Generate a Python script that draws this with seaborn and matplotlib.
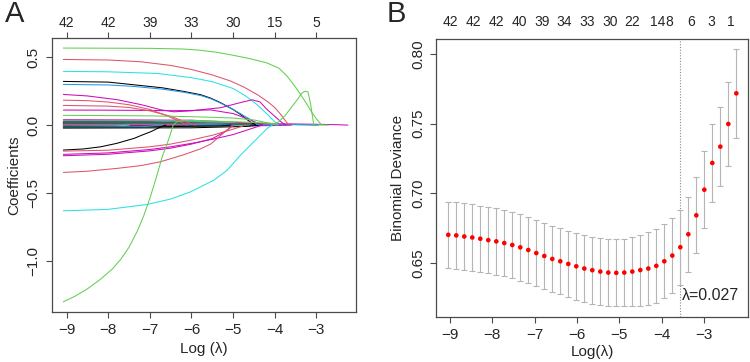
import numpy as np
import pandas as pd
import matplotlib
matplotlib.use("Agg")
import matplotlib.pyplot as plt
import seaborn as sns

# ---------------- colours (R default palette) ----------------
BLACK, RED, GREEN, BLUE, CYAN, MAGENTA = "black", "#DF536B", "#61D04F", "#2297E6", "#28E2E5", "#CD0BBC"

# ---------------- Panel A: coefficient paths (log lambda knots, coefficients) ----------------
green_top_x = [-9.08, -8.0, -7.0, -6.2, -5.8, -5.4, -5.0, -4.6, -4.2, -3.9, -3.7, -3.5, -3.3, -3.1, -2.98, -2.87]
green_top_y = [0.568, 0.567, 0.566, 0.561, 0.552, 0.537, 0.515, 0.49, 0.46, 0.42, 0.36, 0.28, 0.19, 0.09, 0.04, 0.0]

green_hump_x = [-9.08, -8.8, -8.5, -8.2, -7.9, -7.7, -7.5, -7.3, -7.15, -7.0, -6.85, -6.7, -6.6, -6.5, -6.44,
                -6.35, -6.2, -6.0, -5.5, -5.0, -4.5, -4.0, -3.9, -3.75, -3.6, -3.45, -3.35, -3.27, -3.2, -3.14, -3.06]
green_hump_y = [-1.303, -1.262, -1.207, -1.14, -1.06, -0.99, -0.90, -0.78, -0.67, -0.54, -0.39, -0.23, -0.15, -0.06, 0.0,
                0.025, 0.033, 0.035, 0.03, 0.025, 0.02, 0.012, 0.025, 0.07, 0.13, 0.19, 0.235, 0.25, 0.245, 0.16, 0.0]

red_top_x = [-9.08, -8.0, -7.22, -6.5, -6.0, -5.5, -5.06, -4.74, -4.42, -4.18, -4.0, -3.86, -3.75, -3.66]
red_top_y = [0.484, 0.48, 0.467, 0.44, 0.41, 0.37, 0.325, 0.28, 0.225, 0.175, 0.13, 0.08, 0.035, 0.0]

cyan_top_x = [-9.08, -8.0, -6.83, -6.0, -5.5, -5.0, -4.7, -4.42, -4.18, -4.0, -3.92]
cyan_top_y = [0.396, 0.393, 0.381, 0.35, 0.32, 0.27, 0.215, 0.15, 0.08, 0.025, 0.0]

black_top_x = [-9.08, -8.0, -7.38, -6.7, -6.18, -5.78, -5.54, -5.3, -5.0, -4.82, -4.62, -4.45]
black_top_y = [0.322, 0.317, 0.297, 0.275, 0.248, 0.224, 0.199, 0.165, 0.115, 0.078, 0.03, 0.0]

blue_top_x = [-9.08, -8.0, -7.38, -6.7, -6.18, -5.78, -5.54, -5.3, -5.0, -4.8, -4.55, -4.38]
blue_top_y = [0.300, 0.296, 0.285, 0.265, 0.242, 0.218, 0.195, 0.162, 0.115, 0.08, 0.035, 0.0]

mag_a_x = [-9.08, -8.5, -7.78, -7.2, -6.74, -6.42, -6.0, -5.78, -5.3, -4.9, -4.54, -4.35, -4.2, -4.0, -3.86, -3.74]
mag_a_y = [0.226, 0.215, 0.187, 0.15, 0.113, 0.098, 0.105, 0.113, 0.128, 0.16, 0.187, 0.17, 0.12, 0.065, 0.027, 0.0]

mag_b_x = [-9.08, -8.0, -7.0, -6.5, -6.0, -5.54, -5.0, -4.6, -4.3]
mag_b_y = [0.111, 0.11, 0.108, 0.106, 0.108, 0.112, 0.085, 0.04, 0.0]

red_c_x = [-9.08, -8.5, -8.0, -7.5, -7.0, -6.6, -6.3, -6.1]
red_c_y = [0.184, 0.18, 0.17, 0.15, 0.115, 0.07, 0.03, 0.0]

red_d_x = [-9.08, -8.0, -7.5, -7.0, -6.5, -6.2, -5.9]
red_d_y = [0.145, 0.14, 0.13, 0.105, 0.065, 0.03, 0.0]

green_e_x = [-9.08, -7.0, -6.0, -5.0, -4.5, -4.1, -3.95]
green_e_y = [0.072, 0.068, 0.062, 0.052, 0.038, 0.012, 0.0]

black_neg_x = [-9.08, -8.6, -8.18, -7.8, -7.38, -7.2, -6.98, -6.8, -6.62]
black_neg_y = [-0.184, -0.176, -0.16, -0.135, -0.098, -0.075, -0.049, -0.022, 0.0]

red_neg_x = [-9.08, -8.0, -7.0, -6.5, -6.0, -5.5, -5.0, -4.7]
red_neg_y = [-0.192, -0.185, -0.16, -0.14, -0.11, -0.075, -0.03, 0.0]

mag_neg1_x = [-9.08, -8.0, -7.0, -6.5, -6.0, -5.5, -5.0, -4.6, -4.3]
mag_neg1_y = [-0.216, -0.205, -0.18, -0.16, -0.135, -0.105, -0.07, -0.03, 0.0]

mag_neg2_x = [-9.08, -8.0, -7.0, -6.5, -6.0, -5.5, -5.2, -5.0]
mag_neg2_y = [-0.226, -0.215, -0.19, -0.17, -0.14, -0.10, -0.05, 0.0]

red_big_x = [-9.08, -8.5, -7.78, -7.2, -6.74, -6.2, -5.78, -5.54, -5.38, -5.2, -5.06, -4.98]
red_big_y = [-0.349, -0.34, -0.319, -0.298, -0.27, -0.22, -0.175, -0.14, -0.098, -0.05, -0.018, 0.0]

cyan_neg_x = [-9.08, -8.02, -7.06, -6.5, -6.02, -5.46, -5.14, -4.82, -4.42, -4.18, -4.06]
cyan_neg_y = [-0.632, -0.622, -0.585, -0.545, -0.492, -0.406, -0.332, -0.221, -0.098, -0.024, 0.0]

# small coefficients forming the band near zero
band_colors = [MAGENTA, GREEN, RED, BLUE, BLACK, CYAN, MAGENTA, GREEN, BLACK, BLUE, CYAN, RED, MAGENTA,
               BLACK, GREEN, CYAN, BLUE, RED, BLACK, MAGENTA, CYAN, GREEN, BLACK, BLUE, BLACK]
band_x = [
    [-9.08, -6.0, -4.6, -4.2], [-9.08, -6.0, -5.0, -4.5], [-9.08, -6.5, -5.2, -4.8], [-9.08, -6.0, -4.8, -4.4],
    [-9.08, -7.0, -5.4, -5.0], [-9.08, -6.0, -4.6, -4.3], [-9.08, -6.0, -4.0, -3.0, -2.5, -2.24],
    [-9.08, -7.5, -7.2], [-9.08, -6.0, -4.3, -3.9], [-9.08, -7.0, -5.2, -4.9], [-9.08, -6.5, -5.4, -5.1],
    [-9.08, -6.0, -3.8, -2.98], [-9.08, -7.6, -7.3], [-9.08, -6.2, -4.6], [-9.08, -5.5, -3.5, -2.7],
    [-9.08, -7.3, -6.8], [-9.08, -5.0, -3.2, -2.95], [-9.08, -6.5, -6.2], [-9.08, -6.0, -4.5],
    [-9.08, -5.5, -4.1, -3.6], [-9.08, -7.8, -7.5], [-9.08, -6.0, -4.9, -4.6], [-9.08, -7.0, -5.3, -5.05],
    [-9.08, -7.2, -6.7], [-9.08, -6.0, -4.7, -4.3]]
band_y = [
    [0.040, 0.036, 0.015, 0.0], [0.035, 0.032, 0.015, 0.0], [0.030, 0.028, 0.012, 0.0], [0.026, 0.024, 0.012, 0.0],
    [0.022, 0.021, 0.010, 0.0], [0.020, 0.019, 0.010, 0.0], [0.012, 0.012, 0.010, 0.006, 0.003, 0.0],
    [0.018, 0.012, 0.0], [0.016, 0.015, 0.008, 0.0], [0.014, 0.013, 0.006, 0.0], [0.012, 0.011, 0.005, 0.0],
    [0.010, 0.010, 0.007, 0.0], [0.009, 0.006, 0.0], [0.008, 0.007, 0.0], [0.006, 0.006, 0.004, 0.0],
    [0.005, 0.003, 0.0], [0.004, 0.004, 0.003, 0.0], [0.003, 0.002, 0.0], [-0.004, -0.004, 0.0],
    [-0.006, -0.006, -0.004, 0.0], [-0.008, -0.006, 0.0], [-0.010, -0.009, -0.004, 0.0], [-0.014, -0.013, -0.006, 0.0],
    [-0.018, -0.012, 0.0], [-0.022, -0.020, -0.010, 0.0]]

top_a_pos = [-9, -8, -7, -6, -5, -4, -3]
top_a_labels = ["42", "42", "39", "33", "30", "15", "5"]

# ---------------- Panel B: cross-validation curve ----------------
log_lambda = [-9.040, -8.851, -8.662, -8.473, -8.284, -8.095, -7.906, -7.717, -7.528, -7.339, -7.150, -6.961,
              -6.772, -6.583, -6.394, -6.205, -6.016, -5.827, -5.638, -5.449, -5.260, -5.071, -4.882, -4.693,
              -4.504, -4.315, -4.126, -3.937, -3.748, -3.559, -3.370, -3.181, -2.992, -2.803, -2.614, -2.425, -2.236]
cv_mean = [0.6702, 0.6698, 0.6690, 0.6683, 0.6674, 0.6664, 0.6655, 0.6643, 0.6629, 0.6612, 0.6593, 0.6571,
           0.6550, 0.6529, 0.6512, 0.6493, 0.6476, 0.6460, 0.6448, 0.6438, 0.6431, 0.6429, 0.6431, 0.6438,
           0.6449, 0.6460, 0.6479, 0.6512, 0.6553, 0.6613, 0.6706, 0.6842, 0.7026, 0.7218, 0.7335, 0.7498, 0.7718]
cv_se = [0.0238, 0.0238, 0.0238, 0.0238, 0.0238, 0.0238, 0.0238, 0.0238, 0.0238, 0.0238, 0.0238, 0.0238,
         0.0238, 0.0238, 0.0238, 0.0238, 0.0239, 0.0239, 0.0240, 0.0240, 0.0240, 0.0240, 0.0242, 0.0245,
         0.0255, 0.0260, 0.0263, 0.0267, 0.0268, 0.0269, 0.0270, 0.0272, 0.0277, 0.0280, 0.0283, 0.0301, 0.0319]
top_b_pos = [-8.98, -8.44, -7.90, -7.37, -6.83, -6.30, -5.76, -5.22, -4.69, -4.10, -3.83, -3.31, -2.83, -2.36]
top_b_labels = ["42", "42", "42", "40", "39", "34", "33", "30", "22", "14", "8", "6", "3", "1"]
sel_log_lambda = -3.559
sel_label = "λ=0.027"

# ---------------- build long table for panel A ----------------
major = [
    ("green_top", GREEN, green_top_x, green_top_y), ("red_top", RED, red_top_x, red_top_y),
    ("cyan_top", CYAN, cyan_top_x, cyan_top_y), ("black_top", BLACK, black_top_x, black_top_y),
    ("blue_top", BLUE, blue_top_x, blue_top_y), ("mag_a", MAGENTA, mag_a_x, mag_a_y),
    ("mag_b", MAGENTA, mag_b_x, mag_b_y), ("red_c", RED, red_c_x, red_c_y), ("red_d", RED, red_d_x, red_d_y),
    ("green_e", GREEN, green_e_x, green_e_y), ("black_neg", BLACK, black_neg_x, black_neg_y),
    ("red_neg", RED, red_neg_x, red_neg_y), ("mag_neg1", MAGENTA, mag_neg1_x, mag_neg1_y),
    ("mag_neg2", MAGENTA, mag_neg2_x, mag_neg2_y), ("red_big", RED, red_big_x, red_big_y),
    ("cyan_neg", CYAN, cyan_neg_x, cyan_neg_y), ("green_hump", GREEN, green_hump_x, green_hump_y),
]
rows, pal = [], {}
for i, (c, xs, ys) in enumerate(zip(band_colors, band_x, band_y)):
    name = f"band{i}"
    pal[name] = c
    rows += [(name, x, y) for x, y in zip(xs, ys)]
for name, c, xs, ys in major:
    pal[name] = c
    rows += [(name, x, y) for x, y in zip(xs, ys)]
df_a = pd.DataFrame(rows, columns=["path", "loglam", "coef"])

# ---------------- style ----------------
sns.set_style("white")
plt.rcParams["font.family"] = ["Liberation Sans", "DejaVu Sans"]
EDGE = "#4a4a4a"

fig = plt.figure(figsize=(7.5, 3.62), dpi=100)
axA = fig.add_axes([51.7 / 750, (362 - 311.7) / 362, 304.3 / 750, 273.4 / 362])
axB = fig.add_axes([436 / 750, (362 - 317) / 362, 312 / 750, 278 / 362])

sns.lineplot(data=df_a, x="loglam", y="coef", hue="path", palette=pal, estimator=None,
             sort=False, legend=False, linewidth=0.75, ax=axA)

axB.errorbar(log_lambda, cv_mean, yerr=cv_se, fmt="none", ecolor="#b5b5b5",
             elinewidth=0.8, capsize=2.5, capthick=0.8, zorder=1)
sns.scatterplot(x=log_lambda, y=cv_mean, color="red", s=11, edgecolor="none", ax=axB, zorder=3)
axB.axvline(sel_log_lambda, color="#8a8a8a", linestyle=(0, (1, 1.5)), linewidth=0.8, zorder=0)
axB.text(sel_log_lambda + 0.03, 0.6267, sel_label, ha="left", va="center", fontsize=11.5)

def style(ax):
    for s in ax.spines.values():
        s.set_visible(True)
        s.set_color(EDGE)
        s.set_linewidth(0.9)
    ax.tick_params(axis="both", direction="out", length=4, width=0.8, color=EDGE,
                   labelsize=11, pad=4, bottom=True, left=True)
    for lab in ax.get_yticklabels():
        lab.set_rotation(90)
        lab.set_va("center")

axA.set_xlim(-9.36, -2.046)
axA.set_ylim(-1.376, 0.640)
axA.set_xticks([-9, -8, -7, -6, -5, -4, -3])
axA.set_yticks([-1.0, -0.5, 0.0, 0.5])
axA.set_yticklabels(["\u22121.0", "\u22120.5", "0.0", "0.5"])
axA.set_xlabel("Log (λ)", fontsize=11, labelpad=4)
axA.set_ylabel("Coefficients", fontsize=11, labelpad=4)
style(axA)

axB.set_xlim(-9.33, -1.96)
axB.set_ylim(0.6112, 0.8108)
axB.set_xticks([-9, -8, -7, -6, -5, -4, -3])
axB.set_yticks([0.65, 0.70, 0.75, 0.80])
axB.set_yticklabels(["0.65", "0.70", "0.75", "0.80"])
axB.set_xlabel("Log(λ)", fontsize=11, labelpad=2)
axB.set_ylabel("Binomial Deviance", fontsize=11, labelpad=4)
style(axB)

secA = axA.secondary_xaxis("top")
secA.set_xticks(top_a_pos)
secA.set_xticklabels(top_a_labels)
secA.tick_params(length=4, width=0.8, color=EDGE, labelsize=10, pad=2)
secA.spines["top"].set_visible(False)

secB = axB.secondary_xaxis("top")
secB.set_xticks(top_b_pos)
secB.set_xticklabels(top_b_labels)
secB.tick_params(length=0, labelsize=10, pad=7)
secB.spines["top"].set_visible(False)

fig.text(15 / 750, 1 - 14 / 362, "A", fontsize=21, ha="center", va="center")
fig.text(396 / 750, 1 - 14 / 362, "B", fontsize=21, ha="center", va="center")

fig.savefig("out.png", dpi=100)
